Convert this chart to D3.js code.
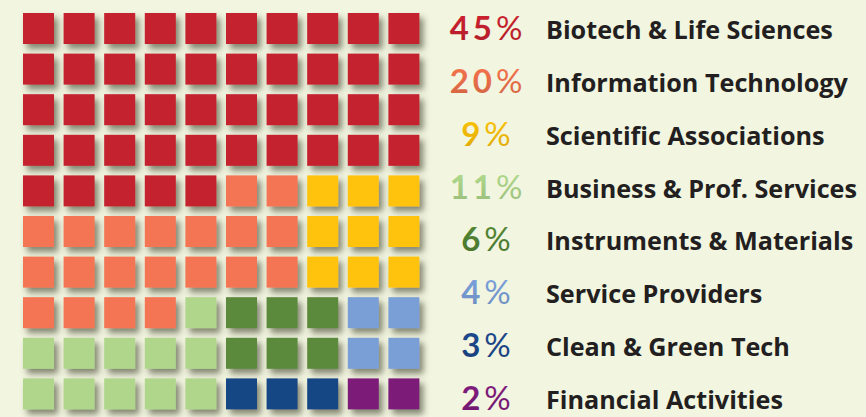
<!DOCTYPE html>
<html>
<head>
<meta charset="utf-8">
<script src="https://cdn.jsdelivr.net/npm/d3@7"></script>
<style>
  html, body { margin: 0; padding: 0; background: #f2f5e0; }
  svg { display: block; }
</style>
</head>
<body>
<svg id="chart" width="866" height="417"></svg>
<script>
// ---- data ----
const categories = [
  "Biotech & Life Sciences",
  "Information Technology",
  "Scientific Associations",
  "Business & Prof. Services",
  "Instruments & Materials",
  "Service Providers",
  "Clean & Green Tech",
  "Financial Activities"
];
const percents = [45, 20, 9, 11, 6, 4, 3, 2];
const colors = ["#c4202e", "#f37552", "#ffc310", "#b0d68b", "#5b8a3c", "#7a9fd6", "#184785", "#7c1a78"];
const textColors = ["#c01f2d", "#e66c47", "#f2b705", "#a6cd84", "#4f7f31", "#7498cf", "#1b4585", "#7a1a77"];
// cell arrangement: category index per cell, row by row
const gridRows = [
  "0000000000",
  "0000000000",
  "0000000000",
  "0000000000",
  "0000011222",
  "1111111222",
  "1111111222",
  "1111344455",
  "3333344455",
  "3333366677"
];

// ---- drawing ----
const svg = d3.select("#chart");
svg.append("rect").attr("width", 866).attr("height", 417).attr("fill", "#f2f5e0");

const defs = svg.append("defs");
const f = defs.append("filter").attr("id", "shadow")
  .attr("x", "-30%").attr("y", "-30%").attr("width", "170%").attr("height", "170%");
f.append("feDropShadow").attr("dx", 4).attr("dy", 5).attr("stdDeviation", 3)
  .attr("flood-color", "#4a4d36").attr("flood-opacity", 0.65);

const idx = d3.range(10);
const x = d3.scaleBand().domain(idx).range([23, 419.4]).paddingInner(0.236).paddingOuter(0);
const y = d3.scaleBand().domain(idx).range([13, 409.4]).paddingInner(0.236).paddingOuter(0);

const cells = [];
gridRows.forEach((row, r) => {
  row.split("").forEach((c, col) => cells.push({ r, col, cat: +c }));
});

svg.append("g").selectAll("rect").data(cells).join("rect")
  .attr("x", d => x(d.col))
  .attr("y", d => y(d.r))
  .attr("width", x.bandwidth())
  .attr("height", y.bandwidth())
  .attr("fill", d => colors[d.cat])
  .attr("filter", "url(#shadow)");

// legend
const ly = d3.scalePoint().domain(categories).range([39, 409]);
const legend = svg.append("g");
categories.forEach((c, i) => {
  const g = defs.append("linearGradient").attr("id", "grad" + i)
    .attr("x1", 0).attr("y1", 0).attr("x2", 0).attr("y2", 1);
  g.append("stop").attr("offset", "0%").attr("stop-color", d3.color(textColors[i]).brighter(0.25));
  g.append("stop").attr("offset", "100%").attr("stop-color", d3.color(textColors[i]).darker(0.25));

  const t = legend.append("text")
    .attr("x", 488).attr("y", ly(c) + 1)
    .attr("text-anchor", "middle")
    .attr("font-family", "Lato, 'Open Sans', sans-serif")
    .attr("font-size", 33)
    .attr("letter-spacing", 4)
    .attr("fill", "url(#grad" + i + ")");
  t.append("tspan").attr("font-weight", 700).text(percents[i]);
  t.append("tspan").attr("font-weight", 400).text("%");

  legend.append("text")
    .attr("x", 546).attr("y", ly(c))
    .attr("font-family", "'Open Sans', sans-serif")
    .attr("font-weight", 700)
    .attr("font-size", 25.2)
    .attr("fill", "#231f20")
    .text(c);
});
</script>
</body>
</html>
